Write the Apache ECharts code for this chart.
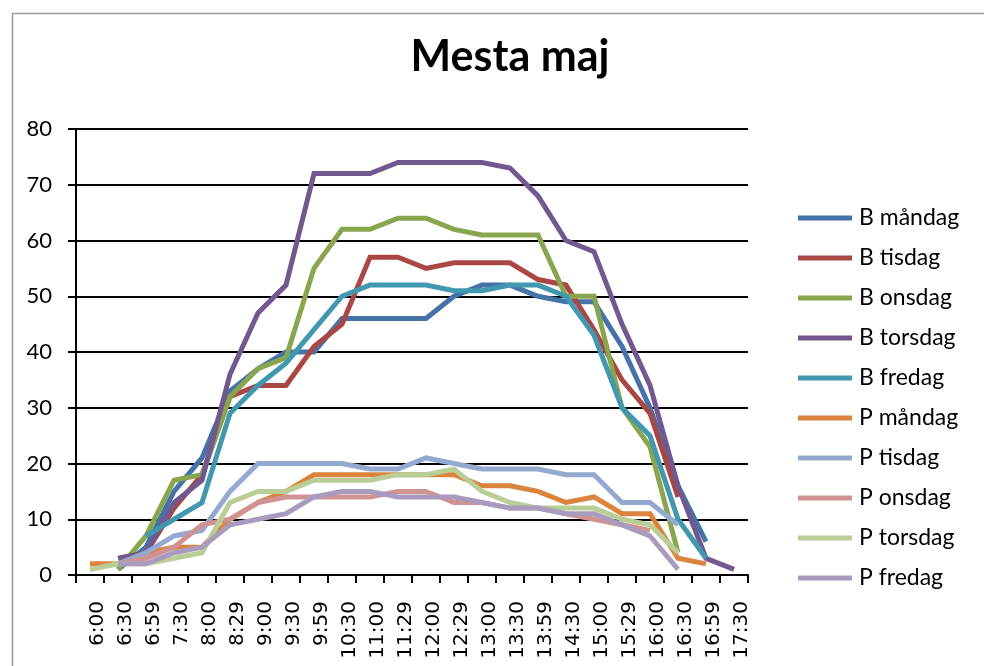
<!DOCTYPE html>
<html><head><meta charset="utf-8">
<script src="https://cdn.jsdelivr.net/npm/echarts@6/dist/echarts.min.js"></script>
<style>html,body{margin:0;padding:0;background:#fff}#c{width:984px;height:666px}</style>
</head><body><div id="c"></div>
<script>
const categories = ['6:00','6:30','6:59','7:30','8:00','8:29','9:00','9:30','9:59','10:30','11:00','11:29','12:00','12:29','13:00','13:30','13:59','14:30','15:00','15:29','16:00','16:30','16:59','17:30'];
const seriesNames = ['B måndag','B tisdag','B onsdag','B torsdag','B fredag','P måndag','P tisdag','P onsdag','P torsdag','P fredag'];
const bMandag  = [null,1,5,15,21,33,37,40,40,46,46,46,46,50,52,52,50,49,49,41,30,16,6,null];
const bTisdag  = [null,2,4,12,18,32,34,34,41,45,57,57,55,56,56,56,53,52,44,35,29,14,null,null];
const bOnsdag  = [null,1,7,17,18,32,37,39,55,62,62,64,64,62,61,61,61,50,50,30,23,4,null,null];
const bTorsdag = [null,3,4,13,17,36,47,52,72,72,72,74,74,74,74,73,68,60,58,45,34,16,3,1];
const bFredag  = [null,null,7,10,13,29,34,38,44,50,52,52,52,51,51,52,52,50,43,30,25,10,3,null];
const pMandag  = [2,2,4,5,5,10,13,15,18,18,18,18,18,18,16,16,15,13,14,11,11,3,2,null];
const pTisdag  = [null,2,4,7,8,15,20,20,20,20,19,19,21,20,19,19,19,18,18,13,13,9,null,null];
const pOnsdag  = [null,2,3,5,9,10,13,14,14,14,14,15,15,13,13,12,12,11,10,9,8,null,null,null];
const pTorsdag = [1,2,2,3,4,13,15,15,17,17,17,18,18,19,15,13,12,12,12,10,9,4,null,null];
const pFredag  = [null,2,2,4,5,9,10,11,14,15,15,14,14,14,13,12,12,11,11,9,7,1,null,null];
const yTicks = [0,10,20,30,40,50,60,70,80];

const allData = [bMandag,bTisdag,bOnsdag,bTorsdag,bFredag,pMandag,pTisdag,pOnsdag,pTorsdag,pFredag];
const colors = ['#4572A7','#AA4643','#89A54E','#71588F','#4198AF','#DB843D','#93A9CF','#D19392','#B9CD96','#A99BBD'];
const font = 'Lato, "Open Sans", sans-serif';

const chart = echarts.init(document.getElementById('c'), null, {renderer:'canvas'});
chart.setOption({
  animation:false,
  backgroundColor:'#fff',
  color: colors,
  title:{text:'Mesta maj', left:505, top:31, textAlign:'center',
    textStyle:{fontFamily:font, fontSize:43, fontWeight:'bold', color:'#000'}},
  graphic:[{type:'rect', shape:{x:12.5,y:13.5,width:980,height:660}, style:{fill:'none', stroke:'#999', lineWidth:1.5}}],
  grid:{left:76, right:236, top:129, bottom:91, containLabel:false},
  legend:{orient:'vertical', left:793, top:201, itemWidth:54, itemHeight:5, itemGap:16, icon:'rect',
    data: seriesNames,
    textStyle:{fontFamily:font, fontSize:23, color:'#000', lineHeight:24, padding:[0,0,0,2]}},
  xAxis:{type:'category', data:categories, boundaryGap:true,
    axisLine:{lineStyle:{color:'#000', width:2}},
    axisTick:{show:true, alignWithLabel:false, length:8, lineStyle:{color:'#000', width:2}, interval:0},
    axisLabel:{rotate:90, interval:0, fontFamily:'DejaVu Sans', fontSize:20, color:'#000', margin:26,
      verticalAlign:'top', lineHeight:15}},
  yAxis:{type:'value', min:yTicks[0], max:yTicks[yTicks.length-1], interval:10,
    axisLine:{show:true, lineStyle:{color:'#000', width:2}},
    axisTick:{show:true, length:8, lineStyle:{color:'#000', width:2}},
    axisLabel:{fontFamily:font, fontSize:22, color:'#000', margin:24},
    splitLine:{lineStyle:{color:'#000', width:2}}},
  series: allData.map((d,i)=>({
    name: seriesNames[i], type:'line', data:d, symbol:'none', connectNulls:false,
    lineStyle:{width:5, color:colors[i], join:'miter'}, itemStyle:{color:colors[i]}
  }))
});
</script></body></html>
